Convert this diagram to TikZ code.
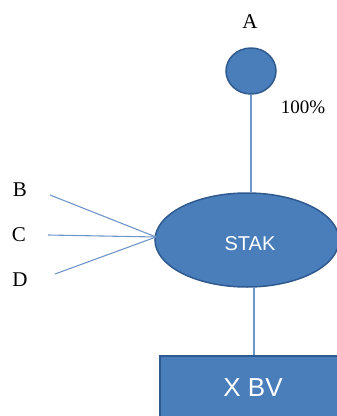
\documentclass[tikz,border=0pt]{standalone}
\usetikzlibrary{shapes.geometric}
\usepackage{fontspec}
\setmainfont{Liberation Serif}
\setsansfont{Liberation Sans}
\definecolor{fillblue}{HTML}{4A7EBB}
\definecolor{edgeblue}{HTML}{2F5A8F}
\definecolor{lineblue}{HTML}{6F96C8}
\begin{document}
\begin{tikzpicture}[x=1pt,y=-1pt,
  shapebox/.style={fill=fillblue,draw=edgeblue,line width=1.5pt},
  conn/.style={draw=lineblue,line width=1.1pt},
  lbl/.style={font=\fontsize{21}{21}\selectfont,text=black},
  inner/.style={font=\sffamily\fontsize{20}{20}\selectfont,text=white}]
\useasboundingbox (0,0) rectangle (337,416);
\begin{scope}
\clip (0,0) rectangle (337,416);
% nodes
\node[shapebox,ellipse,minimum width=50pt,minimum height=46pt,inner sep=0pt] (a) at (251,71) {};
\node[shapebox,ellipse,minimum width=184pt,minimum height=94pt,inner sep=0pt] (stak) at (247,240) {};
\node[inner] (stakt) at (250,244) {STAK};
\node[shapebox,rectangle,minimum width=200pt,minimum height=90pt,anchor=north west,inner sep=0pt] (xbv) at (159,355) {};
\node[font=\sffamily\fontsize{26}{26}\selectfont,text=white] (xbvt) at (253,388) {X BV};
% labels
\node[lbl] (la) at (250,22) {A};
\node[font=\fontsize{19}{19}\selectfont] (pct) at (303,107) {100\%};
\node[lbl] (lb) at (20,190) {B};
\node[lbl] (lc) at (19,235) {C};
\node[lbl] (ld) at (20,280) {D};
\coordinate (bend) at (50,195);
\coordinate (cend) at (48,235);
\coordinate (dend) at (55,274);
\coordinate (hub) at (156,237);
\coordinate (sbot) at (254,287);
\coordinate (xtop) at (254,355);
% connectors
\draw[conn] (a.south) -- (a.south |- stak.north);
\draw[conn] (bend) -- (hub);
\draw[conn] (cend) -- (hub);
\draw[conn] (dend) -- (hub);
\draw[conn] (sbot) -- (xtop);
\end{scope}
\end{tikzpicture}
\end{document}
